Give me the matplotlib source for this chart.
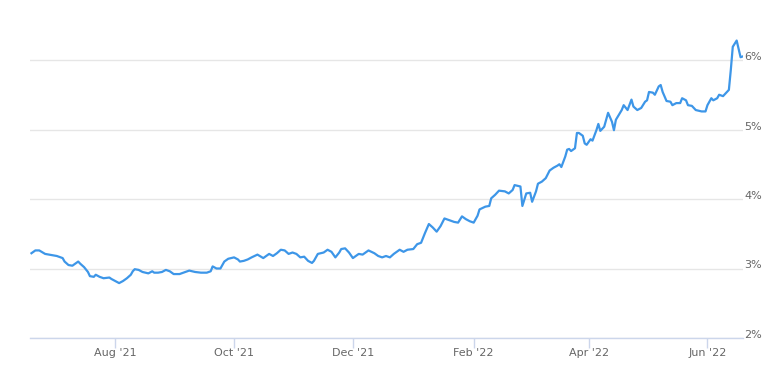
import pandas as pd
import matplotlib
matplotlib.use("Agg")
import matplotlib.pyplot as plt
import matplotlib.dates as mdates
from matplotlib.ticker import FuncFormatter

# daily rate readings (approximate)
dates = [
    "2021-06-19", "2021-06-21", "2021-06-23", "2021-06-26", "2021-06-28",
    "2021-07-02", "2021-07-03", "2021-07-05", "2021-07-06", "2021-07-08",
    "2021-07-10", "2021-07-11", "2021-07-13", "2021-07-14", "2021-07-16",
    "2021-07-18", "2021-07-19", "2021-07-21", "2021-07-22", "2021-07-24",
    "2021-07-26", "2021-07-29", "2021-07-30", "2021-08-01", "2021-08-03",
    "2021-08-05", "2021-08-07", "2021-08-09", "2021-08-10", "2021-08-11",
    "2021-08-13", "2021-08-15", "2021-08-18", "2021-08-20", "2021-08-21",
    "2021-08-23", "2021-08-25", "2021-08-27", "2021-08-29", "2021-08-31",
    "2021-09-03", "2021-09-05", "2021-09-08", "2021-09-11", "2021-09-14",
    "2021-09-17", "2021-09-19", "2021-09-20", "2021-09-22", "2021-09-24",
    "2021-09-26", "2021-09-28", "2021-10-01", "2021-10-03", "2021-10-04",
    "2021-10-06", "2021-10-08", "2021-10-10", "2021-10-13", "2021-10-16",
    "2021-10-17", "2021-10-19", "2021-10-21", "2021-10-23", "2021-10-25",
    "2021-10-27", "2021-10-29", "2021-10-31", "2021-11-02", "2021-11-04",
    "2021-11-06", "2021-11-08", "2021-11-10", "2021-11-11", "2021-11-13",
    "2021-11-16", "2021-11-18", "2021-11-20", "2021-11-22", "2021-11-24",
    "2021-11-25", "2021-11-27", "2021-11-29", "2021-12-01", "2021-12-04",
    "2021-12-06", "2021-12-09", "2021-12-12", "2021-12-14", "2021-12-16",
    "2021-12-18", "2021-12-20", "2021-12-22", "2021-12-25", "2021-12-27",
    "2021-12-29", "2022-01-01", "2022-01-03", "2022-01-05", "2022-01-07",
    "2022-01-09", "2022-01-11", "2022-01-13", "2022-01-15", "2022-01-17",
    "2022-01-19", "2022-01-22", "2022-01-24", "2022-01-26", "2022-01-28",
    "2022-01-30", "2022-02-01", "2022-02-03", "2022-02-04", "2022-02-07",
    "2022-02-09", "2022-02-10", "2022-02-12", "2022-02-14", "2022-02-17",
    "2022-02-19", "2022-02-21", "2022-02-22", "2022-02-25", "2022-02-26",
    "2022-02-28", "2022-03-02", "2022-03-03", "2022-03-05", "2022-03-06",
    "2022-03-08", "2022-03-10", "2022-03-12", "2022-03-14", "2022-03-16",
    "2022-03-17", "2022-03-18", "2022-03-20", "2022-03-21", "2022-03-22",
    "2022-03-23", "2022-03-25", "2022-03-26", "2022-03-27", "2022-03-29",
    "2022-03-30", "2022-03-31", "2022-04-02", "2022-04-03", "2022-04-05",
    "2022-04-06", "2022-04-07", "2022-04-09", "2022-04-11", "2022-04-13",
    "2022-04-14", "2022-04-15", "2022-04-18", "2022-04-19", "2022-04-21",
    "2022-04-23", "2022-04-24", "2022-04-26", "2022-04-28", "2022-04-30",
    "2022-05-01", "2022-05-02", "2022-05-04", "2022-05-05", "2022-05-07",
    "2022-05-08", "2022-05-09", "2022-05-11", "2022-05-13", "2022-05-14",
    "2022-05-16", "2022-05-18", "2022-05-19", "2022-05-21", "2022-05-22",
    "2022-05-24", "2022-05-26", "2022-05-29", "2022-05-31", "2022-06-01",
    "2022-06-03", "2022-06-04", "2022-06-06", "2022-06-07", "2022-06-09",
    "2022-06-10", "2022-06-12", "2022-06-13", "2022-06-14", "2022-06-16",
    "2022-06-18", "2022-06-19",
]
rates = [
    3.22, 3.26, 3.26, 3.21, 3.20,
    3.18, 3.17, 3.15, 3.10, 3.05,
    3.04, 3.06, 3.10, 3.07, 3.02,
    2.95, 2.89, 2.88, 2.91, 2.88,
    2.86, 2.87, 2.85, 2.82, 2.79,
    2.82, 2.86, 2.91, 2.96, 2.99,
    2.98, 2.95, 2.93, 2.96, 2.94,
    2.94, 2.95, 2.98, 2.96, 2.92,
    2.92, 2.94, 2.97, 2.95, 2.94,
    2.94, 2.96, 3.03, 3.00, 3.00,
    3.10, 3.14, 3.16, 3.13, 3.10,
    3.11, 3.13, 3.16, 3.20, 3.15,
    3.17, 3.21, 3.18, 3.22, 3.27,
    3.26, 3.21, 3.23, 3.21, 3.16,
    3.17, 3.11, 3.08, 3.11, 3.21,
    3.23, 3.27, 3.24, 3.16, 3.23,
    3.28, 3.29, 3.23, 3.15, 3.21,
    3.20, 3.26, 3.22, 3.18, 3.16,
    3.18, 3.16, 3.21, 3.27, 3.24,
    3.27, 3.28, 3.35, 3.37, 3.51,
    3.64, 3.59, 3.53, 3.61, 3.72,
    3.70, 3.67, 3.66, 3.75, 3.71,
    3.68, 3.66, 3.76, 3.85, 3.89,
    3.90, 4.01, 4.06, 4.12, 4.11,
    4.08, 4.13, 4.20, 4.18, 3.90,
    4.08, 4.09, 3.96, 4.11, 4.22,
    4.25, 4.30, 4.41, 4.45, 4.48,
    4.50, 4.46, 4.61, 4.71, 4.72,
    4.69, 4.73, 4.95, 4.95, 4.91,
    4.80, 4.78, 4.86, 4.84, 4.99,
    5.08, 4.98, 5.04, 5.24, 5.11,
    4.99, 5.14, 5.28, 5.35, 5.28,
    5.43, 5.33, 5.28, 5.31, 5.40,
    5.42, 5.54, 5.53, 5.50, 5.62,
    5.64, 5.54, 5.41, 5.40, 5.35,
    5.38, 5.38, 5.45, 5.42, 5.35,
    5.34, 5.28, 5.26, 5.26, 5.35,
    5.45, 5.42, 5.45, 5.50, 5.48,
    5.51, 5.57, 5.86, 6.19, 6.28,
    6.04, 6.05,
]
y_ticks = [2, 3, 4, 5, 6]

dates = pd.to_datetime(dates)

fig = plt.figure(figsize=(7.8, 3.78), dpi=100)
ax = fig.add_axes([30 / 780, 40 / 378, 713 / 780, 312.75 / 378])

ax.plot(dates, rates, color="#3d96e8", linewidth=1.6, solid_joinstyle="round")

ax.set_xlim(dates[0] - pd.Timedelta(hours=18), dates[-1] + pd.Timedelta(hours=6))
ax.set_ylim(2, 6.5)

# y axis on the right, labels only, sitting on the grid line
ax.yaxis.tick_right()
ax.set_yticks(y_ticks)
ax.yaxis.set_major_formatter(FuncFormatter(lambda v, p: f"{v:.0f}%"))
ax.tick_params(axis="y", length=0, pad=1, labelsize=8, labelcolor="#666666")
for lab in ax.get_yticklabels():
    lab.set_verticalalignment("baseline")
ax.grid(axis="y", color="#e6e6e6", linewidth=1)
ax.set_axisbelow(True)

# x axis: every two months
ax.xaxis.set_major_locator(mdates.MonthLocator(bymonth=[2, 4, 6, 8, 10, 12]))
ax.xaxis.set_major_formatter(mdates.DateFormatter("%b '%y"))
ax.tick_params(axis="x", length=7, width=1, color="#ccd6eb", pad=0,
               labelsize=8, labelcolor="#666666")

for s in ["top", "left", "right"]:
    ax.spines[s].set_visible(False)
ax.spines["bottom"].set_color("#ccd6eb")
ax.spines["bottom"].set_linewidth(1)

fig.savefig("out.png", dpi=100)
